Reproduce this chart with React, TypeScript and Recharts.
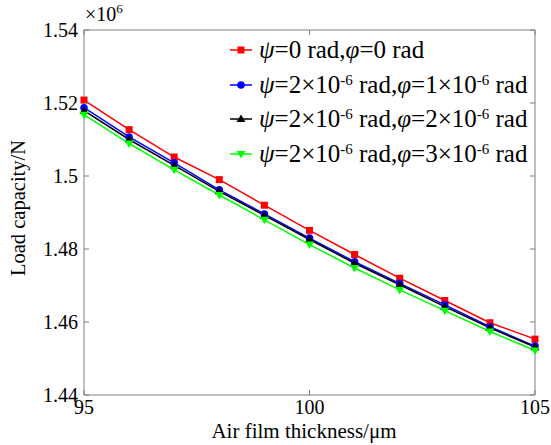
import React from 'react';
import { LineChart, Line, XAxis, YAxis, Legend, ReferenceArea, Label } from 'recharts';

// air film thickness (um) and load capacity (x10^6 N)
const thickness = [95, 96, 97, 98, 99, 100, 101, 102, 103, 104, 105];
const load00 = [1.5208, 1.5127, 1.5052, 1.499, 1.492, 1.4851, 1.4785, 1.472, 1.4659, 1.4598, 1.4553];
const load21 = [1.5187, 1.5107, 1.5036, 1.4962, 1.4896, 1.483, 1.4765, 1.4706, 1.4647, 1.4587, 1.4534];
const load22 = [1.5179, 1.51, 1.5029, 1.4958, 1.4892, 1.4826, 1.4761, 1.4702, 1.4642, 1.4584, 1.4531];
const load23 = [1.5168, 1.5089, 1.5017, 1.4948, 1.488, 1.4812, 1.4748, 1.4688, 1.4631, 1.4574, 1.4522];

const xTicks = [95, 100, 105];
const yTicks = [1.44, 1.46, 1.48, 1.5, 1.52, 1.54];

const psiMant = [0, 2, 2, 2];
const phiMant = [0, 1, 2, 3];
const expo = -6;

const data = thickness.map((t, i) => ({
  t,
  s0: load00[i],
  s1: load21[i],
  s2: load22[i],
  s3: load23[i],
}));

const series = [
  { key: 's0', color: '#ff0000', shape: 'square' },
  { key: 's1', color: '#0000ff', shape: 'circle' },
  { key: 's2', color: '#000000', shape: 'up' },
  { key: 's3', color: '#00ff00', shape: 'down' },
];

const FONT = 'Liberation Serif, DejaVu Serif, serif';
const FRAME = '#808080';
const PL = 84;
const PR = 535;
const PT = 30;
const PB = 395;

function Marker({ shape, cx, cy, color }: { shape: string; cx: number; cy: number; color: string }) {
  if (shape === 'square') return <rect x={cx - 3.5} y={cy - 3.5} width={7} height={7} fill={color} />;
  if (shape === 'circle') return <circle cx={cx} cy={cy} r={3.8} fill={color} />;
  if (shape === 'up')
    return <polygon points={`${cx},${cy - 4.5} ${cx + 4.5},${cy + 3} ${cx - 4.5},${cy + 3}`} fill={color} />;
  return <polygon points={`${cx},${cy + 4.5} ${cx + 4.5},${cy - 3} ${cx - 4.5},${cy - 3}`} fill={color} />;
}

const fmt = (v: number) => String(parseFloat(v.toFixed(2)));

const YTick = (props: any) => {
  const { y, payload } = props;
  return (
    <g>
      <line x1={PL} x2={PL + 5} y1={y} y2={y} stroke={FRAME} />
      <line x1={PR - 5} x2={PR} y1={y} y2={y} stroke={FRAME} />
      <text x={PL - 6} y={y} dy="0.35em" textAnchor="end" style={{ fontFamily: FONT }} fontSize={20} fill="#000">
        {fmt(payload.value)}
      </text>
    </g>
  );
};

const XTick = (props: any) => {
  const { x, payload } = props;
  return (
    <g>
      <line x1={x} x2={x} y1={PB} y2={PB - 5} stroke={FRAME} />
      <line x1={x} x2={x} y1={PT} y2={PT + 5} stroke={FRAME} />
      <text x={x} y={PB + 12} dy="0.35em" textAnchor="middle" style={{ fontFamily: FONT }} fontSize={20} fill="#000">
        {payload.value}
      </text>
    </g>
  );
};

function Sci({ m }: { m: number }) {
  if (m === 0) return <span>0</span>;
  return (
    <span>
      {m}×10<sup style={{ fontSize: '0.6em', verticalAlign: '0.55em', lineHeight: 0 }}>{expo}</sup>
    </span>
  );
}

const LegendContent = () => (
  <div style={{ fontFamily: FONT, fontSize: 25, color: '#000' }}>
    {series.map((s, i) => (
      <div key={s.key} style={{ display: 'flex', alignItems: 'center', height: 34.5, whiteSpace: 'nowrap' }}>
        <svg width={26} height={12} style={{ marginRight: 3 }}>
          <line x1={0} x2={22} y1={6} y2={6} stroke={s.color} strokeWidth={1.5} />
          <Marker shape={s.shape} cx={11} cy={6} color={s.color} />
        </svg>
        <span>
          <i>ψ</i>=<Sci m={psiMant[i]} /> rad,<i>φ</i>=<Sci m={phiMant[i]} /> rad
        </span>
      </div>
    ))}
  </div>
);

export default function App() {
  return (
    <div style={{ position: 'absolute', left: 0, top: 0, width: 551, height: 445, background: '#fff', fontFamily: FONT }}>
      <LineChart width={551} height={445} data={data} margin={{ top: PT, right: 551 - PR, bottom: 0, left: 0 }}>
        <XAxis
          dataKey="t"
          type="number"
          domain={[95, 105]}
          ticks={xTicks}
          height={50}
          axisLine={false}
          tickLine={false}
          tick={<XTick />}
          interval={0}
        >
          <Label
            content={() => (
              <text x={304} y={431} dy="0.35em" textAnchor="middle" style={{ fontFamily: FONT }} fontSize={21} fill="#000">
                Air film thickness/μm
              </text>
            )}
          />
        </XAxis>
        <YAxis
          type="number"
          domain={[1.44, 1.54]}
          ticks={yTicks}
          width={PL}
          axisLine={false}
          tickLine={false}
          tick={<YTick />}
          interval={0}
        >
          <Label
            content={() => (
              <text
                x={18}
                y={208}
                dy="0.35em"
                textAnchor="middle"
                transform="rotate(-90 18 208)"
                style={{ fontFamily: FONT }}
                fontSize={20.5}
                fill="#000"
              >
                Load capacity/N
              </text>
            )}
          />
          <Label
            content={() => (
              <text x={85} y={21} style={{ fontFamily: FONT }} fontSize={20} fill="#000">
                ×10
                <tspan dy={-8} fontSize={13}>
                  6
                </tspan>
              </text>
            )}
          />
        </YAxis>
        <ReferenceArea
          x1={95}
          x2={105}
          y1={1.44}
          y2={1.54}
          fill="none"
          stroke={FRAME}
          strokeWidth={1}
          ifOverflow="visible"
        />
        <Legend
          layout="vertical"
          align="center"
          verticalAlign="middle"
          content={<LegendContent />}
          wrapperStyle={{ position: 'absolute', left: 230, top: 33, width: 320 }}
        />
        {series.map((s) => (
          <Line
            key={s.key}
            dataKey={s.key}
            stroke={s.color}
            strokeWidth={1.5}
            isAnimationActive={false}
            dot={(p: any) => <Marker key={`${s.key}-${p.index}`} shape={s.shape} cx={p.cx} cy={p.cy} color={s.color} />}
          />
        ))}
      </LineChart>
    </div>
  );
}
